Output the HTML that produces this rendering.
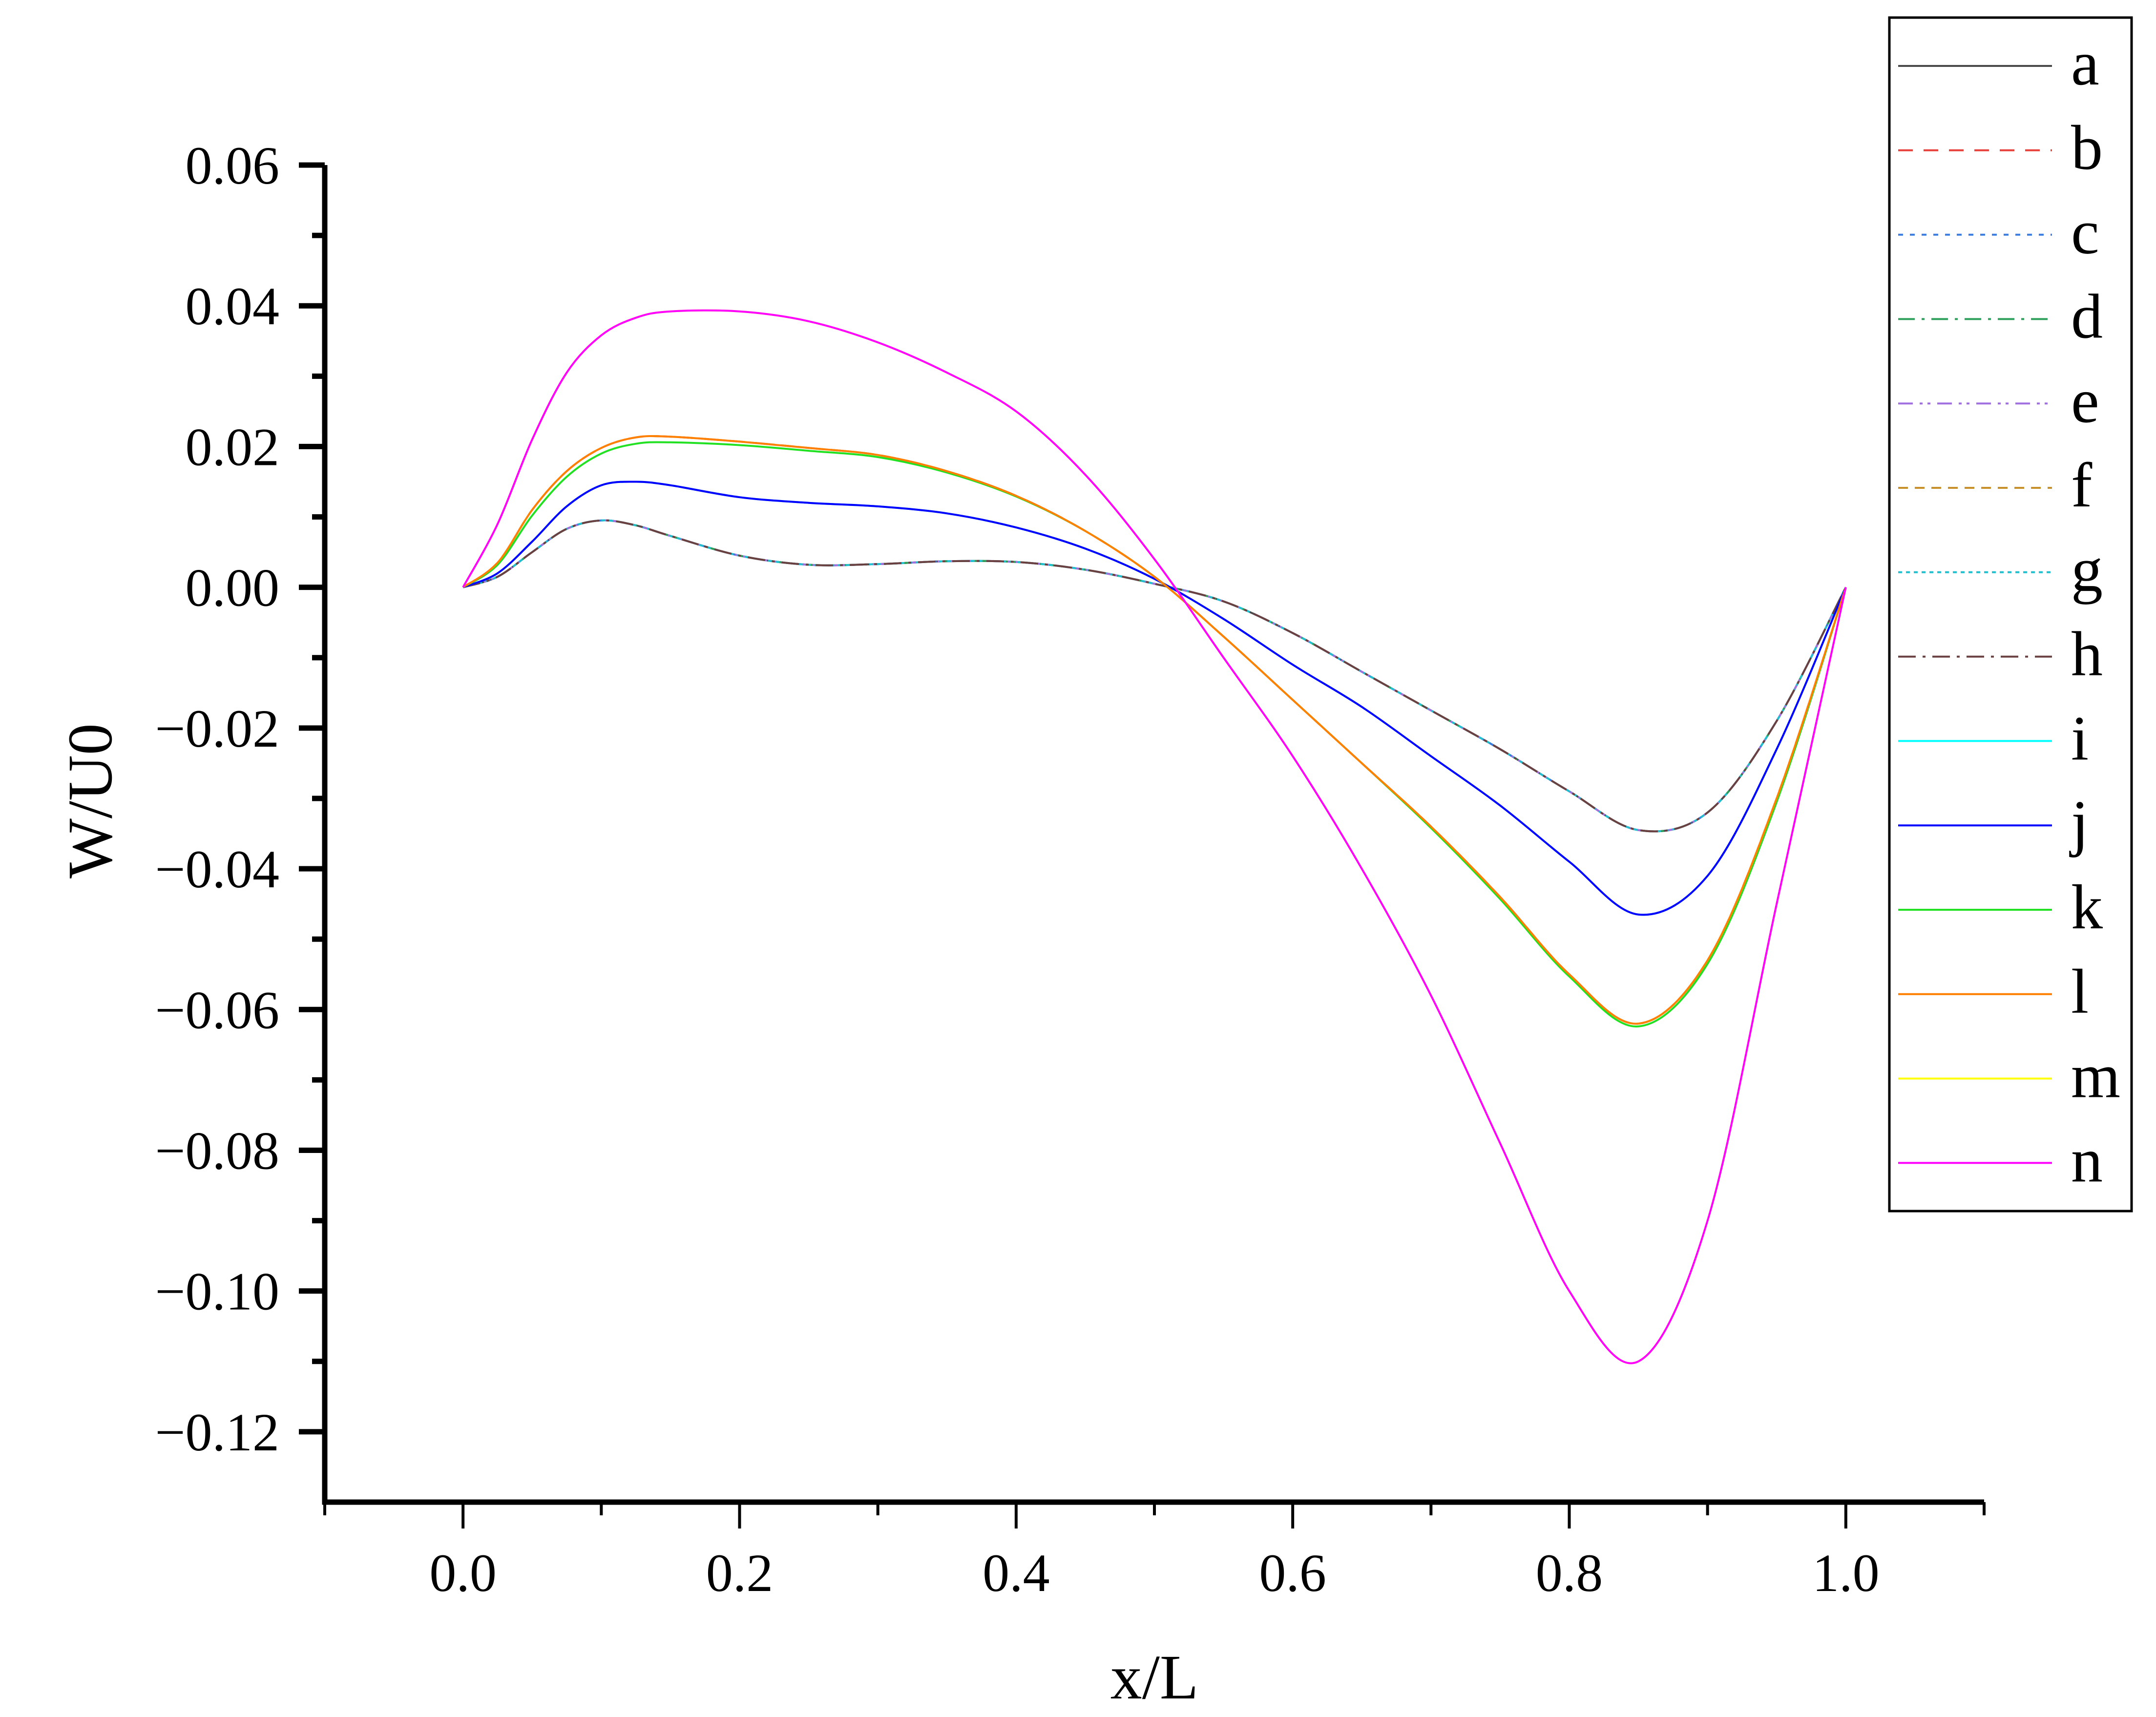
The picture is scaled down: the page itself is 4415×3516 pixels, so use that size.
<!DOCTYPE html>
<html><head><meta charset="utf-8"><style>
html,body{margin:0;padding:0;background:#fff;}
svg{display:block;font-family:"Liberation Serif",serif;}
</style></head><body>
<svg id="chart" width="4415" height="3516" viewBox="0 0 4415 3516" xmlns="http://www.w3.org/2000/svg">
<rect width="4415" height="3516" fill="#fff"/>
<g id="axes"></g>
<g id="series"></g>
<g id="legend"></g>
</svg>
<script>
const xs = [0,0.025,0.05,0.075,0.1,0.125,0.15,0.2,0.25,0.3,0.35,0.4,0.45,0.5,0.55,0.6,0.65,0.7,0.75,0.8,0.85,0.9,0.95,1.0];
const lowVals = [0,0.0015,0.005,0.0083,0.0095,0.0088,0.0073,0.0045,0.0032,0.0033,0.0037,0.0036,0.0025,0.0005,-0.002,-0.0065,-0.012,-0.0175,-0.023,-0.029,-0.0345,-0.032,-0.019,0];
const midVals = [0,0.0035,0.011,0.0165,0.0198,0.0213,0.0214,0.0207,0.0198,0.0188,0.0165,0.013,0.008,0.0015,-0.007,-0.016,-0.025,-0.034,-0.044,-0.055,-0.062,-0.053,-0.03,0];
const midVals2 = [0,0.0032,0.0102,0.0157,0.019,0.0204,0.0206,0.0202,0.0194,0.0185,0.0163,0.0129,0.008,0.0015,-0.007,-0.016,-0.025,-0.0342,-0.0443,-0.0553,-0.0624,-0.0535,-0.0305,0];
const blueVals = [0,0.002,0.0065,0.0115,0.0145,0.015,0.0145,0.0128,0.012,0.0115,0.0105,0.0085,0.0055,0.0012,-0.0045,-0.011,-0.017,-0.024,-0.031,-0.039,-0.0465,-0.041,-0.023,0];
const highVals = [0,0.009,0.021,0.0305,0.0358,0.0383,0.0392,0.0392,0.0378,0.0348,0.0305,0.025,0.016,0.004,-0.01,-0.024,-0.04,-0.058,-0.079,-0.1,-0.11,-0.09,-0.045,0];
const seriesNames = ['a','b','c','d','e','f','g','h','i','j','k','l','m','n'];
const seriesData = [lowVals,midVals,lowVals,lowVals,lowVals,midVals,lowVals,lowVals,blueVals,blueVals,midVals2,midVals,highVals,highVals];
const seriesColors = ['#4a4a4a','#e8413c','#3a7be0','#2ca05a','#a070e0','#c8902a','#20c0d0','#6a4040','#00ffff','#0000ff','#22e022','#ff8000','#ffff00','#ff00ff'];
const seriesDash = ['','30 22','10 14','34 14 6 14','30 14 6 10 6 14','20 14','8 8','36 14 6 14','','','','','',''];
const xTicks = [0,0.2,0.4,0.6,0.8,1.0];
const xTickLabels = ['0.0','0.2','0.4','0.6','0.8','1.0'];
const yTicks = [0.06,0.04,0.02,0,-0.02,-0.04,-0.06,-0.08,-0.10,-0.12];
const yTickLabels = ['0.06','0.04','0.02','0.00','\u22120.02','\u22120.04','\u22120.06','\u22120.08','\u22120.10','\u22120.12'];

const NS='http://www.w3.org/2000/svg';
const X0=665, X1=4063, XMIN=-0.1, XMAX=1.1;
const YTOP=338, YBOT=3076, YMAXV=0.06, YMINV=-0.13;
function sx(v){return X0+(v-XMIN)/(XMAX-XMIN)*(X1-X0);}
function sy(v){return YTOP+(YMAXV-v)/(YMAXV-YMINV)*(YBOT-YTOP);}
function mk(tag,attrs,parent){const e=document.createElementNS(NS,tag);for(const k in attrs)e.setAttribute(k,attrs[k]);parent.appendChild(e);return e;}

const axes=document.getElementById('axes');
let e;
e=mk('line',{x1:X0,y1:YTOP,x2:X0,y2:YBOT+5,stroke:'#000','stroke-width':11},axes);


e=mk('line',{x1:X0-5,y1:YBOT,x2:X1,y2:YBOT,stroke:'#000','stroke-width':11},axes);


for(let i=0;i<yTicks.length;i++){
  const y=sy(yTicks[i]);
  e=mk('line',{x1:X0-53,y1:y,x2:X0,y2:y,stroke:'#000','stroke-width':11},axes);
  
  
  const t=mk('text',{x:572,y:y+38,'text-anchor':'end','font-size':110,fill:'#000'},axes);
  t.textContent=yTickLabels[i];
  
  
  const ym=sy(yTicks[i]-0.01);
  if(yTicks[i]-0.01>YMINV){
    e=mk('line',{x1:X0-26,y1:ym,x2:X0,y2:ym,stroke:'#000','stroke-width':11},axes);
    
    
  }
}
for(let k=0;k<=12;k++){
  const v=-0.1+k*0.1;
  const x=sx(v);
  const major=(k%2===1);
  e=mk('line',{x1:x,y1:YBOT,x2:x,y2:YBOT+(major?54:27),stroke:'#000','stroke-width':6},axes);
  
  
}
for(let i=0;i<xTicks.length;i++){
  const t=mk('text',{x:sx(xTicks[i]),y:3258,'text-anchor':'middle','font-size':110,fill:'#000'},axes);
  t.textContent=xTickLabels[i];
  
  
}
let t=mk('text',{x:2364,y:3478,'text-anchor':'middle','font-size':130,fill:'#000'},axes);
t.textContent='x/L';


t=mk('text',{x:0,y:0,'text-anchor':'middle','font-size':130,fill:'#000',transform:'translate(228,1640) rotate(-90)'},axes);
t.textContent='W/U0';



function pathFor(vals){
  const p=xs.map((x,i)=>[sx(x),sy(vals[i])]);
  let d='M'+p[0][0].toFixed(1)+','+p[0][1].toFixed(1);
  for(let i=0;i<p.length-1;i++){
    const p0=p[Math.max(0,i-1)],p1=p[i],p2=p[i+1],p3=p[Math.min(p.length-1,i+2)];
    const c1=[p1[0]+(p2[0]-p0[0])/6,p1[1]+(p2[1]-p0[1])/6];
    const c2=[p2[0]-(p3[0]-p1[0])/6,p2[1]-(p3[1]-p1[1])/6];
    d+='C'+c1[0].toFixed(1)+','+c1[1].toFixed(1)+' '+c2[0].toFixed(1)+','+c2[1].toFixed(1)+' '+p2[0].toFixed(1)+','+p2[1].toFixed(1);
  }
  return d;
}
const sg=document.getElementById('series');
for(let s=0;s<seriesNames.length;s++){
  const a={d:pathFor(seriesData[s]),fill:'none',stroke:seriesColors[s],'stroke-width':4};
  if(seriesDash[s])a['stroke-dasharray']=seriesDash[s];
  e=mk('path',a,sg);
  
  
}

const lg=document.getElementById('legend');
e=mk('rect',{x:3869,y:36,width:496,height:2444,fill:'#fff',stroke:'#000','stroke-width':5},lg);


for(let s=0;s<seriesNames.length;s++){
  const y=135+s*172.8;
  const a={x1:3887,y1:y,x2:4202,y2:y,stroke:seriesColors[s],'stroke-width':4};
  if(seriesDash[s])a['stroke-dasharray']=seriesDash[s];
  e=mk('line',a,lg);
  
  
  t=mk('text',{x:4241,y:y+38,'font-size':130,fill:'#000'},lg);
  t.textContent=seriesNames[s];
  
  
}
</script>
</body></html>
